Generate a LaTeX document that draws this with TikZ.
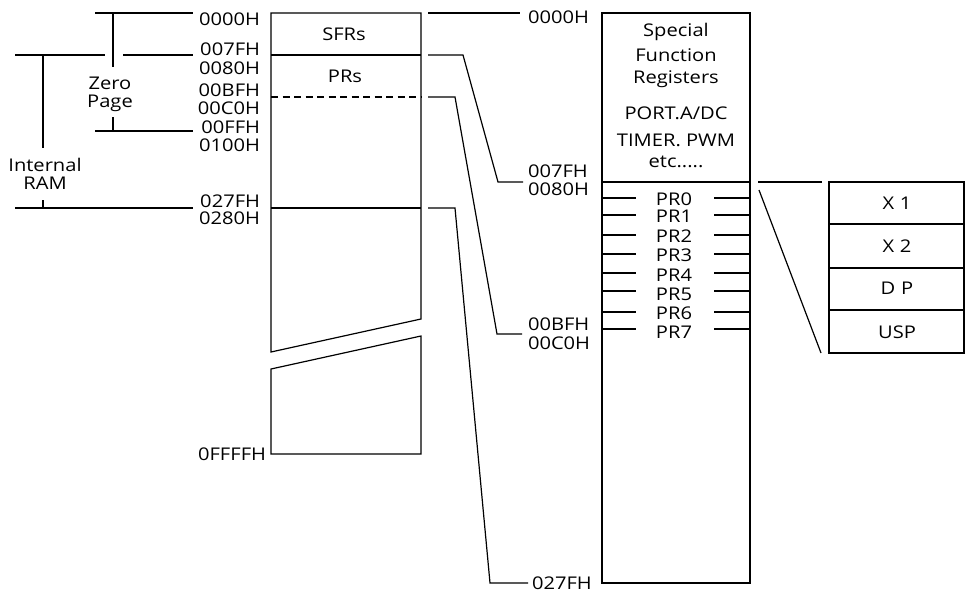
\documentclass[tikz,border=0pt]{standalone}
\usepackage{fontspec}
\setmainfont{Open Sans}[FakeStretch=1.15]
\begin{document}
\begin{tikzpicture}[x=1pt,y=-1pt,
  ln/.style={line width=1.2pt, line join=miter},
  lbl/.style={inner sep=0pt, outer sep=0pt, font=\fontsize{17.5}{18}\selectfont},
  dsh/.style={ln, dash pattern=on 7pt off 4.5pt}]
\useasboundingbox (0,0) rectangle (966,594);

% ---------- left annotations ----------
\draw[ln] (95,13) -- (193,13);
\draw[ln] (95,131) -- (193,131);
\draw[ln] (113,13) -- (113,67);
\draw[ln] (113,117) -- (113,131);
\draw[ln] (15,55) -- (105,55);
\draw[ln] (123,55) -- (193,55);
\draw[ln] (43,55) -- (43,148);
\draw[ln] (43,200) -- (43,208);
\draw[ln] (15,208) -- (193,208);
\node[lbl,align=center,font=\fontsize{17.5}{18}\selectfont] (zeropage) at (110,94) {Zero\\Page};
\node[lbl,align=center,font=\fontsize{17.5}{18}\selectfont] (intram) at (45,174) {Internal\\RAM};

% ---------- left address labels ----------
\foreach \t/\y [count=\i] in {0000H/19,007FH/49,0080H/68,00BFH/90,00C0H/108,00FFH/127,0100H/145,027FH/201,0280H/218}
  \node[lbl,anchor=east] (la\i) at (260,\y) {\t};
\node[lbl,anchor=east] (laend) at (266,454) {0FFFFH};

% ---------- left memory block ----------
\coordinate (Ltl) at (271,13);
\coordinate (Ltr) at (421,13);
\draw[ln] (271,352) -- (Ltl) -- (Ltr) -- (421,319) -- cycle;
\draw[ln] (271,369) -- (421,336) -- (421,454) -- (271,454) -- cycle;
\draw[ln] (271,55) -- (421,55);
\draw[dsh] (271,97) -- (421,97);
\draw[ln] (271,208) -- (421,208);
\node[lbl] (sfrs) at (344,34) {SFRs};
\node[lbl] (prs) at (345,76) {PRs};

% ---------- middle connectors ----------
\draw[ln] (428,13) -- (520,13);
\draw[ln] (428,55) -- (463,55) -- (498,182) -- (523,182);
\draw[ln] (428,97) -- (455,97) -- (497,334) -- (522,334);
\draw[ln] (428,208) -- (455,208) -- (490,583) -- (528,583);

% ---------- right address labels ----------
\node[lbl,anchor=west] (ra1) at (528,17) {0000H};
\node[lbl,anchor=west] (ra2) at (528,171) {007FH};
\node[lbl,anchor=west] (ra3) at (528,189) {0080H};
\node[lbl,anchor=west] (ra4) at (528,324) {00BFH};
\node[lbl,anchor=west] (ra5) at (528,343) {00C0H};
\node[lbl,anchor=west] (ra6) at (532,583) {027FH};

% ---------- SFR block ----------
\draw[ln] (602,13) rectangle (750,583);
\draw[ln] (602,182) -- (750,182);
\node[lbl,anchor=base] (s1) at (676,37) {Special};
\node[lbl,anchor=base] (s2) at (676,62) {Function};
\node[lbl,anchor=base] (s3) at (676,84) {Registers};
\node[lbl,anchor=base] (s4) at (676,119) {PORT.A/DC};
\node[lbl,anchor=base] (s5) at (676,146) {TIMER. PWM};
\node[lbl,anchor=base] (s6) at (676,167) {etc.....};
\foreach \ty/\py [count=\i from 0] in {198/199,215/216,235/236,254/255,273/275,291/294,312/313,329/332}{
  \draw[ln] (602,\ty) -- (636,\ty);
  \draw[ln] (714,\ty) -- (750,\ty);
  \node[lbl] (pr\i) at (674,\py) {PR\i};
}

% ---------- register box ----------
\draw[ln] (758,182) -- (822,182);
\draw[ln] (759,190) -- (821,353);
\draw[ln] (829,182) rectangle (964,353);
\draw[ln] (829,224) -- (964,224);
\draw[ln] (829,268) -- (964,268);
\draw[ln] (829,310) -- (964,310);
\node[lbl] (x1) at (897,203) {X\,\,1};
\node[lbl] (x2) at (897,246) {X\,\,2};
\node[lbl] (dp) at (897,288) {D\,\,P};
\node[lbl] (usp) at (897,332) {USP};
\end{tikzpicture}
\end{document}
